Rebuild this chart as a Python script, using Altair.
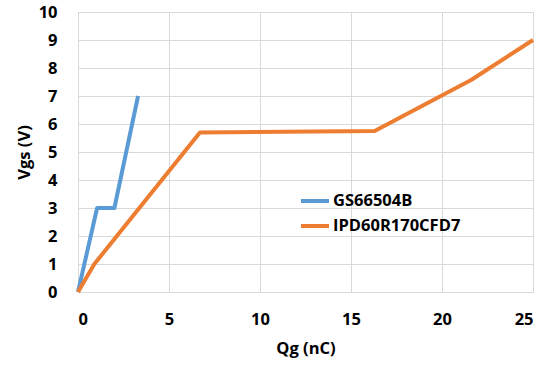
import altair as alt
import pandas as pd

series_names = ["GS66504B", "IPD60R170CFD7"]
gs_qg = [0, 1.05, 2.0, 3.3]
gs_vgs = [0, 3.0, 3.0, 7.0]
ipd_qg = [0, 0.9, 6.7, 16.3, 21.6, 25.0]
ipd_vgs = [0, 1.0, 5.7, 5.75, 7.57, 9.0]
colors = ["#5B9BD5", "#ED7D31"]

rows = []
for i, (q, v) in enumerate(zip(gs_qg, gs_vgs)):
    rows.append({"series": series_names[0], "Qg": q, "Vgs": v, "order": i})
for i, (q, v) in enumerate(zip(ipd_qg, ipd_vgs)):
    rows.append({"series": series_names[1], "Qg": q, "Vgs": v, "order": i})
df = pd.DataFrame(rows)

FONT = "Open Sans"
FS = 16.5

chart = alt.Chart(df).mark_line(strokeWidth=4, strokeCap="butt", strokeJoin="round").encode(
    x=alt.X("Qg:Q", scale=alt.Scale(domain=[0, 25], nice=False),
            axis=alt.Axis(title="Qg (nC)", values=[0, 5, 10, 15, 20, 25], format="d",
                          ticks=False, labelPadding=19, titlePadding=13,
                          domainColor="#d9d9d9", gridColor="#d9d9d9")),
    y=alt.Y("Vgs:Q", scale=alt.Scale(domain=[0, 10], nice=False),
            axis=alt.Axis(title="Vgs (V)", values=list(range(0, 11)), format="d",
                          ticks=False, labelPadding=21, titlePadding=6,
                          domainColor="#d9d9d9", gridColor="#d9d9d9")),
    color=alt.Color("series:N", scale=alt.Scale(domain=series_names, range=colors),
                    legend=alt.Legend(title=None, orient="none", legendX=221, legendY=173,
                                      symbolType="stroke", symbolSize=784, symbolStrokeWidth=4,
                                      rowPadding=0, labelOffset=2)),
    order="order:Q",
).properties(
    width=455, height=280,
    autosize=alt.AutoSizeParams(type="none"),
    padding={"left": 78, "top": 12, "right": 10, "bottom": 74},
).configure_view(stroke="#d9d9d9").configure_axis(
    labelFont=FONT, titleFont=FONT, labelFontSize=FS, titleFontSize=FS,
    labelFontWeight="bold", titleFontWeight="bold", labelColor="#000", titleColor="#000",
    gridWidth=1,
).configure_legend(
    labelFont=FONT, labelFontSize=FS, labelFontWeight="bold", labelColor="#000",
)

chart.save("out.html", embed_options={"renderer": "svg", "actions": False})
